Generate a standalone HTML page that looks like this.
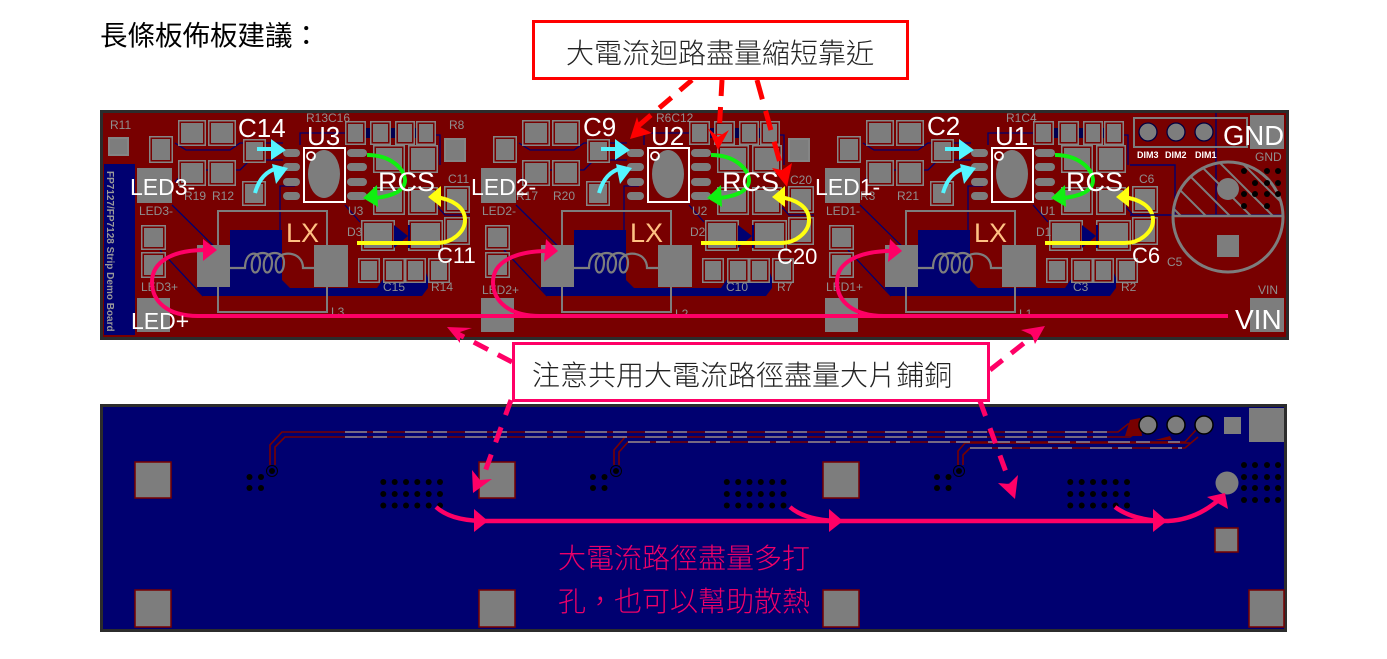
<!DOCTYPE html>
<html><head><meta charset="utf-8"><style>
html,body{margin:0;padding:0;background:#fff;width:1387px;height:659px;overflow:hidden}
svg{display:block}
.w{font-family:"Liberation Sans",sans-serif;fill:#fff}
.s{font-family:"Liberation Sans",sans-serif;fill:#8f8f8f;font-size:12px}
.c{font-family:"Noto Sans CJK TC","Noto Serif CJK SC",sans-serif}
</style></head><body>
<svg width="1387" height="659" viewBox="0 0 1387 659" xmlns="http://www.w3.org/2000/svg">
<defs>
<g id="p">
    <rect x="181" y="123" width="22" height="20"/><rect x="211" y="123" width="22" height="20"/>
    <rect x="181" y="163" width="22" height="20"/><rect x="211" y="163" width="22" height="20"/>
    <rect x="152" y="139" width="18" height="21"/>
    <rect x="246" y="142" width="17" height="18"/><rect x="245" y="184" width="18" height="19"/>
    <rect x="348" y="124" width="15" height="18"/><rect x="373" y="124" width="15" height="18"/>
    <rect x="398" y="124" width="14" height="18"/><rect x="419" y="124" width="14" height="18"/>
    <rect x="376" y="148" width="26" height="22"/><rect x="411" y="148" width="24" height="22"/>
    <rect x="376" y="190" width="26" height="22"/><rect x="411" y="190" width="24" height="22"/>
    <rect x="364" y="223" width="28" height="25"/><rect x="411" y="223" width="29" height="25"/>
    <rect x="361" y="261" width="16" height="19"/><rect x="386" y="261" width="16" height="19"/>
    <rect x="408" y="261" width="15" height="19"/><rect x="431" y="261" width="16" height="19"/>
    <rect x="144" y="228" width="19" height="19"/><rect x="144" y="255" width="19" height="20"/>
    <rect x="447" y="189" width="20" height="21"/><rect x="447" y="220" width="20" height="22"/>
</g>
<g id="mod">
  <path d="M230 230H282V280L290 288H377L386 275V258H420L428 278V288L422 296H203L197 288V245H230Z" fill="#000070"/>
  <g fill="none" stroke="#000070" stroke-width="1.3">
    <path d="M175 143L186 150H230L240 143H283M175 182L186 170H240L250 160H283M172 205L230 262M300 145V133H350M345 205L360 222M436 205L445 215H470M295 186H280V235M160 250L203 296M345 135H440V165"/>
  </g>
  <rect x="345" y="128" width="90" height="10" fill="#000050"/>
  <use href="#p" fill="none" stroke="#858585" stroke-width="6"/>
  <use href="#p" fill="none" stroke="#780000" stroke-width="3"/>
  <use href="#p" fill="#7d7d7d" stroke="none"/>
  <g fill="#7d7d7d">
    <rect x="137" y="168" width="35" height="35"/>
    <rect x="137" y="298" width="33" height="34"/>
    <rect x="197" y="245" width="33" height="42"/><rect x="314" y="245" width="34" height="42"/>
    <rect x="283" y="149" width="17" height="8" rx="4"/><rect x="283" y="163" width="17" height="8" rx="4"/>
    <rect x="283" y="178" width="17" height="8" rx="4"/><rect x="283" y="192" width="17" height="8" rx="4"/>
    <rect x="347" y="149" width="20" height="8" rx="4"/><rect x="347" y="163" width="20" height="8" rx="4"/>
    <rect x="347" y="178" width="20" height="8" rx="4"/><rect x="347" y="192" width="20" height="8" rx="4"/>
    <ellipse cx="324" cy="174" rx="16" ry="24"/>
  </g>
  <path d="M394 225L408 236V225H410V248H408V236L394 248Z" fill="#000070"/>
  <path d="M218 245V211H327V245M218 287V312H327V287" fill="none" stroke="#7d7d7d" stroke-width="2"/>
  <path d="M230 268H245C245 250 260 250 260 262C260 276 250 276 252 262C254 250 272 250 272 262C272 276 262 276 264 262C266 250 284 250 284 262C284 276 274 276 276 262C278 250 303 250 303 268H314" fill="none" stroke="#7d7d7d" stroke-width="2.2"/>
  <rect x="304" y="148" width="41" height="54" fill="none" stroke="#fff" stroke-width="2"/>
  <circle cx="311" cy="156" r="4" fill="none" stroke="#fff" stroke-width="1.8"/>
  <path d="M257 149H275" fill="none" stroke="#55f5ff" stroke-width="4"/>
  <path d="M271 139L286 150L271 160Z" fill="#55f5ff"/>
  <path d="M255 193C259 179 266 171 278 168" fill="none" stroke="#55f5ff" stroke-width="4"/>
  <path d="M272 164L288 168L276 184Z" fill="#55f5ff"/>
  <path d="M367 155C390 155 404 168 405 180C405 190 394 196 375 198" fill="none" stroke="#10f010" stroke-width="4"/>
  <path d="M377 185L363 198L378 207Z" fill="#10f010"/>
  <path d="M357 243H437C452 243 465 232 465 220C465 207 452 199 435 197" fill="none" stroke="#ffff10" stroke-width="4"/>
  <path d="M441 186L428 197L441 207Z" fill="#ffff10"/>
</g>
<clipPath id="hc"><path d="M1170 160H1290V216H1170Z"/></clipPath>
<clipPath id="hd"><circle cx="1228" cy="217" r="55"/></clipPath>
</defs>

<text class="c" x="100" y="45" font-size="27.500" font-weight="400" fill="#000">長條板佈板建議：</text>

<!-- top board -->
<rect x="101.500" y="111.500" width="1186" height="227" fill="#780000" stroke="#2c2c2c" stroke-width="3"/>
<rect x="104" y="164" width="31" height="171" fill="#000070"/>
<g><rect x="109" y="138" width="19" height="17" fill="#7d7d7d" stroke="#858585" stroke-width="2"/>
<rect x="445" y="139" width="20" height="22" fill="#7d7d7d" stroke="#858585" stroke-width="2"/>
<rect x="789" y="139" width="20" height="22" fill="#7d7d7d" stroke="#858585" stroke-width="2"/></g>
<use href="#mod"/><use href="#mod" x="344"/><use href="#mod" x="688"/>

<!-- right connector area -->
<g fill="none" stroke="#000070" stroke-width="1.4"><path d="M1130 165H1175V215H1130M1130 215H1283M1216 113V215"/></g>
<rect x="1134" y="118" width="113" height="29" fill="none" stroke="#7d7d7d" stroke-width="2"/>
<g fill="#7d7d7d" stroke="#000040" stroke-width="1.3"><circle cx="1148" cy="132" r="9"/><circle cx="1176" cy="132" r="9"/><circle cx="1204" cy="132" r="9"/></g>
<rect x="1250" y="115" width="34" height="34" fill="#7d7d7d"/>
<rect x="1250" y="298" width="34" height="34" fill="#7d7d7d"/>
<g clip-path="url(#hd)"><g clip-path="url(#hc)" stroke="#7d7d7d" stroke-width="2" fill="none">
<path d="M1150 185L1190 225M1160 170L1210 220M1172 158L1232 218M1190 155L1252 217M1212 155L1274 217M1234 155L1296 217"/>
</g></g>
<circle cx="1228" cy="217" r="55" fill="none" stroke="#7d7d7d" stroke-width="3"/>
<path d="M1172 216H1284" stroke="#7d7d7d" stroke-width="2.500"/>
<circle cx="1228" cy="189" r="11" fill="#7d7d7d"/>
<rect x="1217" y="235" width="22" height="22" fill="#7d7d7d"/>
<g fill="#000"><circle cx="1244" cy="171" r="3"/><circle cx="1267" cy="171" r="3"/><circle cx="1278" cy="171" r="3"/><circle cx="1255" cy="183" r="3"/><circle cx="1267" cy="183" r="3"/><circle cx="1278" cy="183" r="3"/><circle cx="1244" cy="194" r="3"/><circle cx="1255" cy="194" r="3"/><circle cx="1267" cy="194" r="3"/><circle cx="1278" cy="194" r="3"/><circle cx="1244" cy="206" r="3"/><circle cx="1267" cy="206" r="3"/></g>

<!-- silkscreen -->
<text class="s" x="110" y="129">R11</text><text class="s" x="184" y="200">R19</text><text class="s" x="212" y="200">R12</text>
<text class="s" x="139" y="215">LED3-</text><text class="s" x="141" y="291">LED3+</text><text class="s" x="306" y="122">R13C16</text>
<text class="s" x="348" y="215">U3</text><text class="s" x="449" y="129">R8</text><text class="s" x="448" y="183">C11</text><text class="s" x="347" y="236">D3</text>
<text class="s" x="383" y="291">C15</text><text class="s" x="431" y="291">R14</text><text class="s" x="331" y="316">L3</text>
<text class="s" x="516" y="200">R17</text><text class="s" x="553" y="200">R20</text><text class="s" x="482" y="215">LED2-</text><text class="s" x="482" y="294">LED2+</text>
<text class="s" x="656" y="122">R6C12</text><text class="s" x="692" y="215">U2</text><text class="s" x="690" y="236">D2</text><text class="s" x="726" y="291">C10</text><text class="s" x="777" y="291">R7</text><text class="s" x="675" y="318">L2</text><text class="s" x="790" y="184">C20</text>
<text class="s" x="860" y="200">R3</text><text class="s" x="897" y="200">R21</text><text class="s" x="826" y="215">LED1-</text><text class="s" x="826" y="291">LED1+</text>
<text class="s" x="1006" y="122">R1C4</text><text class="s" x="1040" y="215">U1</text><text class="s" x="1036" y="236">D1</text><text class="s" x="1073" y="291">C3</text><text class="s" x="1121" y="291">R2</text><text class="s" x="1019" y="318">L1</text><text class="s" x="1139" y="183">C6</text>
<text class="s" x="1167" y="266">C5</text><text class="s" x="1255" y="161">GND</text><text class="s" x="1258" y="294">VIN</text>
<text x="107" y="171" transform="rotate(90 107 171)" font-family="Liberation Sans,sans-serif" font-size="10" font-weight="700" fill="#9a9a9a">FP7127/FP7128 Strip Demo Board</text>
<g font-family="Liberation Sans,sans-serif" font-size="9" font-weight="700" fill="#fff"><text x="1137" y="158">DIM3</text><text x="1165" y="158">DIM2</text><text x="1195" y="158">DIM1</text></g>

<!-- pink loops -->
<g fill="none" stroke="#ff0066" stroke-width="4">
<path d="M1228 316H198C168 316 152 302 152 282C152 262 172 250 205 250"/>
<path d="M540 316C510 316 493 302 493 282C493 262 515 251 548 251"/>
<path d="M884 316C854 316 837 302 837 282C837 262 859 251 892 251"/>
</g>
<g fill="#ff0066"><path d="M203 239L217 250L203 261Z"/><path d="M546 239L558 251L544 262Z"/><path d="M890 239L902 251L888 262Z"/></g>

<!-- white labels -->
<g class="w">
<text x="238" y="137" font-size="26">C14</text><text x="307" y="145" font-size="26">U3</text><text x="130" y="195" font-size="23">LED3-</text>
<text x="378" y="191" font-size="27">RCS</text><text x="437" y="263" font-size="22">C11</text><text x="131" y="329" font-size="23">LED+</text>
<text x="583" y="136" font-size="26">C9</text><text x="651" y="145" font-size="26">U2</text><text x="471" y="195" font-size="23">LED2-</text>
<text x="722" y="191" font-size="27">RCS</text><text x="777" y="264" font-size="22">C20</text>
<text x="927" y="135" font-size="26">C2</text><text x="995" y="145" font-size="26">U1</text><text x="815" y="195" font-size="23">LED1-</text>
<text x="1066" y="191" font-size="27">RCS</text><text x="1132" y="263" font-size="22">C6</text>
<text x="1223" y="145" font-size="27.500">GND</text><text x="1235" y="329" font-size="28">VIN</text>
</g>
<g font-family="Liberation Sans,sans-serif" font-size="27" fill="#ffc183"><text x="286" y="242">LX</text><text x="630" y="242">LX</text><text x="974" y="242">LX</text></g>

<!-- bottom board -->
<rect x="101.500" y="405.500" width="1184" height="225" fill="#000070" stroke="#2c2c2c" stroke-width="3"/>
<g fill="#7d7d7d" stroke="#780000" stroke-width="1.500">
<rect x="135" y="462" width="36" height="36"/><rect x="135" y="590" width="36" height="37"/>
<rect x="479" y="462" width="36" height="36"/><rect x="479" y="590" width="36" height="37"/>
<rect x="823" y="462" width="36" height="36"/><rect x="823" y="590" width="36" height="37"/>
<rect x="1249" y="590" width="35" height="37"/>
<rect x="1215" y="528" width="23" height="24"/>
</g>
<rect x="1249" y="408" width="35" height="34" fill="#7d7d7d"/>
<rect x="1224" y="417" width="17" height="17" fill="#7d7d7d"/>
<!-- traces -->
<g fill="none" stroke="#780000" stroke-width="1.600">
<path d="M270 465V445L282 432H1118L1128 424L1139 423"/>
<path d="M275 465V447L285 437H1130L1140 430"/>
<path d="M614 465V450L625 437H620M619 465V452L628 442H1185L1196 430"/>
<path d="M958 465V451L965 443H1190M963 465V455L970 448H1185L1198 437"/>
</g>
<g fill="none" stroke="#8a8a9a" stroke-width="1.600" stroke-dasharray="22 6 14 18">
<path d="M345 432H1118M345 437H1125M628 442H1180M970 448H1182"/>
</g>
<path d="M1125 436L1130 420L1140 418L1142 436ZM1155 440L1170 436L1172 440Z" fill="#780000"/>
<g fill="#7d7d7d" stroke="#000" stroke-width="1.500"><circle cx="1148" cy="425" r="9"/><circle cx="1176" cy="425" r="9"/><circle cx="1204" cy="425" r="9"/></g>
<circle cx="1227" cy="483" r="11.500" fill="#7d7d7d"/>
<g fill="#000">
<circle cx="272" cy="471" r="3"/><circle cx="616" cy="471" r="3"/><circle cx="959" cy="471" r="3"/>
<circle cx="249.500" cy="477" r="3"/><circle cx="261" cy="477" r="3"/><circle cx="249.500" cy="488" r="3"/><circle cx="261" cy="488" r="3"/>
<circle cx="593" cy="477" r="3"/><circle cx="604.500" cy="477" r="3"/><circle cx="593" cy="488" r="3"/><circle cx="604.500" cy="488" r="3"/>
<circle cx="937" cy="477" r="3"/><circle cx="948.500" cy="477" r="3"/><circle cx="937" cy="488" r="3"/><circle cx="948.500" cy="488" r="3"/>
<g id="v"><circle cx="383.300" cy="482" r="3"/><circle cx="394.700" cy="482" r="3"/><circle cx="406" cy="482" r="3"/><circle cx="417.300" cy="482" r="3"/><circle cx="428.700" cy="482" r="3"/><circle cx="440" cy="482" r="3"/><circle cx="383.300" cy="494" r="3"/><circle cx="394.700" cy="494" r="3"/><circle cx="406" cy="494" r="3"/><circle cx="417.300" cy="494" r="3"/><circle cx="428.700" cy="494" r="3"/><circle cx="440" cy="494" r="3"/><circle cx="383.300" cy="505.500" r="3"/><circle cx="394.700" cy="505.500" r="3"/><circle cx="406" cy="505.500" r="3"/><circle cx="417.300" cy="505.500" r="3"/><circle cx="428.700" cy="505.500" r="3"/><circle cx="440" cy="505.500" r="3"/></g>
<use href="#v" x="343.500"/><use href="#v" x="687"/>
<circle cx="1244" cy="465" r="3"/><circle cx="1255" cy="465" r="3"/><circle cx="1267" cy="465" r="3"/><circle cx="1278" cy="465" r="3"/>
<circle cx="1244" cy="477" r="3"/><circle cx="1255" cy="477" r="3"/><circle cx="1267" cy="477" r="3"/><circle cx="1278" cy="477" r="3"/>
<circle cx="1244" cy="488" r="3"/><circle cx="1255" cy="488" r="3"/><circle cx="1267" cy="488" r="3"/><circle cx="1278" cy="488" r="3"/>
<circle cx="1244" cy="500" r="3"/><circle cx="1255" cy="500" r="3"/><circle cx="1267" cy="500" r="3"/><circle cx="1278" cy="500" r="3"/>
</g>
<circle cx="272" cy="471" r="5.500" fill="none" stroke="#000" stroke-width="1"/><circle cx="616" cy="471" r="5.500" fill="none" stroke="#000" stroke-width="1"/><circle cx="959" cy="471" r="5.500" fill="none" stroke="#000" stroke-width="1"/>

<!-- bottom arrows -->
<g fill="none" stroke="#ff0066" stroke-width="4.500">
<path d="M478 521H1160"/>
<path d="M436 507C446 516 460 520 480 521"/><path d="M790 507C800 516 815 520 835 521"/><path d="M1115 507C1127 516 1145 521 1168 521C1190 520 1208 510 1222 497"/>
</g>
<g fill="#ff0066">
<path d="M474 509L488 521L474 532Z"/><path d="M829 509L843 521L829 532Z"/><path d="M1153 509L1167 521L1153 532Z"/>
<path d="M1207 497L1225 493L1228 509Z"/>
</g>

<!-- dashed arrows -->
<g fill="none" stroke="#ff0000" stroke-width="5">
<path d="M692 80L637 127" stroke-dasharray="16 11"/><path d="M722 80L719 135" stroke-dasharray="16 11"/><path d="M757 80L782 170" stroke-dasharray="20 12"/>
</g>
<g fill="#ff0000"><path d="M630 139L637 117L640 127L652 133Z"/><path d="M718 150L708 128L718 137L729 130Z"/><path d="M787 187L772 168L782 170L792 163Z"/></g>
<g fill="none" stroke="#ff0066" stroke-width="5">
<path d="M511 400L482 480" stroke-dasharray="16 13"/><path d="M980 401L1010 483" stroke-dasharray="16 13"/>
<path d="M512 362L458 334" stroke-dasharray="16 11"/><path d="M990 370L1033 336" stroke-dasharray="16 11"/>
</g>
<g fill="#ff0066"><path d="M473 493L472 470L480 480L492 479Z"/><path d="M1015 499L998 483L1009 484L1018 475Z"/><path d="M447 327L472 328L460 332L460 343Z"/><path d="M1045 326L1021 330L1032 335L1035 344Z"/></g>

<!-- callouts -->
<rect x="533.500" y="21.500" width="374" height="57" fill="#fff" stroke="#ff0000" stroke-width="3"/>
<text class="c" x="566" y="63" font-size="28" font-weight="300" fill="#222">大電流迴路盡量縮短靠近</text>
<rect x="513.500" y="343.500" width="475" height="57" fill="#fff" stroke="#ff0066" stroke-width="3"/>
<text class="c" x="532" y="385" font-size="28" font-weight="300" fill="#222" word-spacing="-6">注意共用大電流路徑盡量大片 鋪銅</text>
<text class="c" x="558" y="568" font-size="28" font-weight="300" fill="#ee0068">大電流路徑盡量多打</text>
<text class="c" x="558" y="611" font-size="28" font-weight="300" fill="#ee0068">孔，也可以幫助散熱</text>
</svg>
</body></html>
